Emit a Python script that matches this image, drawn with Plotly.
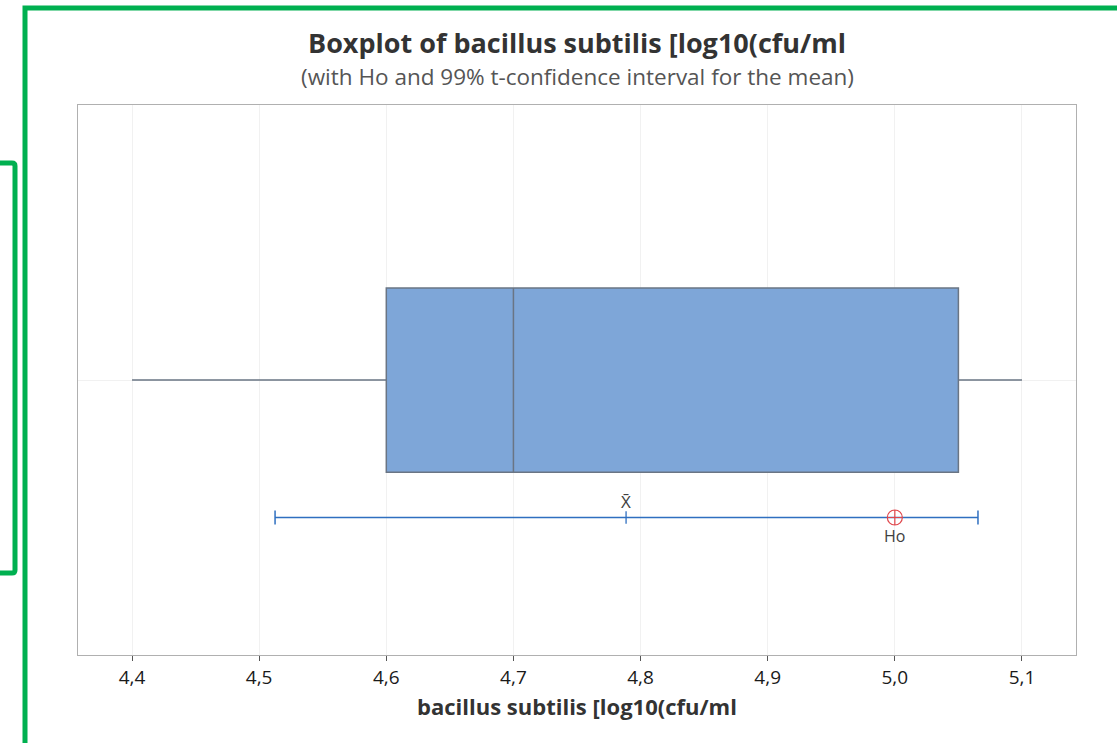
import plotly.graph_objects as go

# ---- data ----
variable_name = "bacillus subtilis [log10(cfu/ml"
box_min = [4.40]
box_q1 = [4.60]
box_median = [4.70]
box_q3 = [5.05]
box_max = [5.10]
ci_lower = 4.5125
ci_upper = 5.0654
sample_mean = 4.7886
h0_value = 5.0
tick_values = [4.4, 4.5, 4.6, 4.7, 4.8, 4.9, 5.0, 5.1]

W, H = 1117, 743
L, R, T, B = 78, 41, 105, 88
PW, PH = W - L - R, H - T - B


def px(x):
    return (x - L) / PW


def py(y):
    return (H - B - y) / PH


fig = go.Figure()

fig.add_trace(go.Box(
    x0=0, y=[0], orientation="h",
    q1=box_q1, median=box_median, q3=box_q3,
    lowerfence=box_min, upperfence=box_max,
    width=0.67, whiskerwidth=0,
    fillcolor="#7EA6D8",
    line=dict(color="#6a7584", width=1.5),
    boxpoints=False, hoverinfo="skip", showlegend=False,
))

# confidence interval for the mean
fig.add_trace(go.Scatter(
    x=[sample_mean], y=[-0.5], mode="markers",
    marker=dict(symbol="line-ns-open", size=9, color="#2f6fc0", line=dict(width=1.3, color="#2f6fc0")),
    error_x=dict(type="data", symmetric=False,
                 array=[ci_upper - sample_mean], arrayminus=[sample_mean - ci_lower],
                 color="#2f6fc0", thickness=1.5, width=7),
    hoverinfo="skip", showlegend=False,
))

# Ho marker
fig.add_trace(go.Scatter(
    x=[h0_value], y=[-0.5], mode="markers",
    marker=dict(symbol="circle-cross-open", size=15, color="#e0474c", line=dict(width=1.2, color="#e0474c")),
    hoverinfo="skip", showlegend=False,
))

font_family = "Open Sans"

annotations = [
    dict(x=sample_mean, y=-0.5, xref="x", yref="y", text="X\u0304", showarrow=False,
         yshift=16, font=dict(family=font_family, size=17, color="#404040")),
    dict(x=h0_value, y=-0.5, xref="x", yref="y", text="Ho", showarrow=False,
         yshift=-18, font=dict(family=font_family, size=16, color="#404040")),
    dict(x=0.5, y=py(43), xref="paper", yref="paper", text="<b>Boxplot of " + variable_name + "</b>",
         showarrow=False, yanchor="middle",
         font=dict(family=font_family, size=27, color="#333333")),
    dict(x=0.5, y=py(77), xref="paper", yref="paper",
         text="(with Ho and 99% t-confidence interval for the mean)",
         showarrow=False, yanchor="middle",
         font=dict(family=font_family, size=22.5, color="#555555")),
]

green = "#00b050"
shapes = [
    # outer frame (top-left corner)
    dict(type="path", xref="paper", yref="paper",
         path=f"M {px(25)} {py(760)} L {px(25)} {py(8)} L {px(1130)} {py(8)}",
         line=dict(color=green, width=5)),
    # inner bracket
    dict(type="path", xref="paper", yref="paper",
         path=f"M {px(-10)} {py(163)} L {px(12)} {py(163)} Q {px(15)} {py(163)} {px(15)} {py(166)} "
              f"L {px(15)} {py(570)} Q {px(15)} {py(573)} {px(12)} {py(573)} L {px(-10)} {py(573)}",
         line=dict(color=green, width=5)),
]

fig.update_layout(
    width=W, height=H,
    margin=dict(l=L, r=R, t=T, b=B),
    paper_bgcolor="white", plot_bgcolor="white",
    separators=",.",
    font=dict(family=font_family, color="#333333"),
    annotations=annotations,
    shapes=shapes,
    showlegend=False,
)

fig.update_xaxes(
    range=[4.3575, 5.1425],
    tickvals=tick_values, tickformat=".1f",
    ticks="outside", ticklen=5, tickcolor="#555555",
    tickfont=dict(family=font_family, size=19, color="#1a1a1a"),
    showgrid=True, gridcolor="#f1f1f1", gridwidth=1,
    showline=True, linecolor="#b0b0b0", linewidth=1, mirror=True,
    zeroline=False,
    title=dict(text="<b>" + variable_name + "</b>", standoff=10,
               font=dict(family=font_family, size=22, color="#333333")),
)

fig.update_yaxes(
    range=[-1, 1],
    tickvals=[0], showticklabels=False, ticks="",
    showgrid=True, gridcolor="#f1f1f1", gridwidth=1,
    showline=True, linecolor="#b0b0b0", linewidth=1, mirror=True,
    zeroline=False,
)

fig.write_html("out.html")
